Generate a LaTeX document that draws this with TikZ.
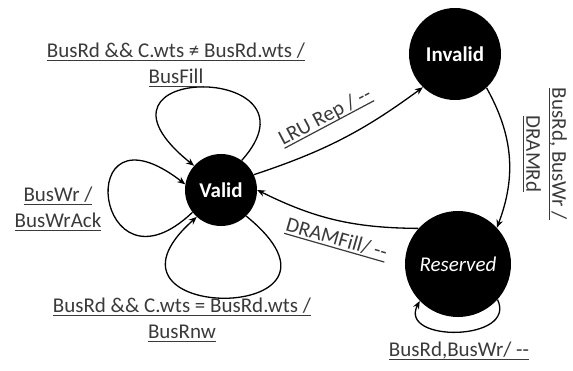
\documentclass[tikz,border=0pt]{standalone}
\usepackage{fontspec}
\setmainfont{Carlito}
\usetikzlibrary{arrows.meta}
\definecolor{labelgray}{HTML}{3A3A3A}
% underline drawn as a rule of fixed depth under the text box
\newsavebox\ulinebox
\newcommand\ulined[1]{\leavevmode\sbox\ulinebox{#1}%
  \rlap{\rule[-3.4pt]{\wd\ulinebox}{1.2pt}}\usebox\ulinebox}
\tikzset{
  state/.style={circle, fill=black, text=white, inner sep=0pt,
    font=\fontsize{21}{25}\selectfont\bfseries},
  edge/.style={line width=1.3pt, -{Stealth[length=8pt,width=6.5pt]}},
  lbl/.style={text=labelgray, font=\fontsize{21}{26}\selectfont,
    align=center, inner sep=0pt},
}
\begin{document}
\begin{tikzpicture}[x=1pt,y=1pt]
  \useasboundingbox (0,0) rectangle (573,370);

  % states
  \node[state, minimum size=72pt]  (valid)    at (221,180) {Valid};
  \node[state, minimum size=92pt]  (invalid)  at (455,316) {Invalid};
  \node[state, minimum size=106pt,
        font=\fontsize{21}{25}\selectfont\itshape] (reserved) at (458,106) {Reserved};

  % self loops on Valid
  \draw[edge] (valid.55)  .. controls (330,308) and (65,308) .. (valid.138);
  \draw[edge] (valid.218) .. controls (95,65)   and (70,275) .. (valid.171);
  \draw[edge] (valid.314) .. controls (380,45)  and (75,45)  .. (valid.228);

  % transitions between states
  \draw[edge] (valid.25)     to[bend right=9]  (invalid.226);
  \draw[edge] (invalid.313)  to[bend left=25]  (reserved.43);
  \draw[edge] (reserved.138) to[bend left=13]  (valid.0);
  \draw[edge] (reserved.318) .. controls +(20,-42) and +(-22,-42) .. (reserved.224);

  % transition labels
  \node[lbl] (lblfill) at (176,305)
    {\ulined{BusRd \&\& C.wts ≠ BusRd.wts /}\\\ulined{BusFill}};
  \node[lbl] (lblwr) at (58,161) {\ulined{BusWr /}\\\ulined{BusWrAck}};
  \node[lbl] (lblrnw) at (182,50)
    {\ulined{BusRd \&\& C.wts = BusRd.wts /}\\\ulined{BusRnw}};
  \node[lbl, rotate=28, anchor=base]  (lbllru)  at (328,248) {\ulined{LRU Rep / -{}-}};
  \node[lbl, rotate=-16, anchor=base] (lbldram) at (335,125) {\ulined{DRAMFill/ -{}-}};
  \node[lbl, rotate=-90] (lblrd) at (545,216) {\ulined{BusRd, BusWr /}\\\ulined{DRAMRd}};
  \node[lbl] (lblself) at (459,19) {\ulined{BusRd,BusWr/ -{}-}};
\end{tikzpicture}
\end{document}
